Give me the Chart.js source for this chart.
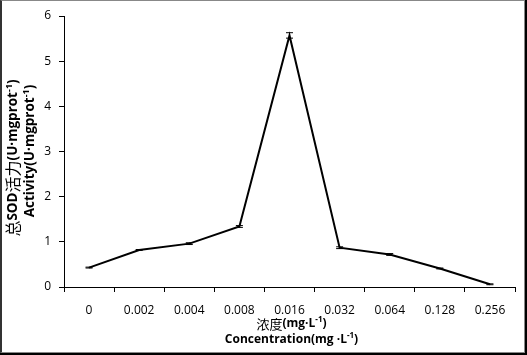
<!DOCTYPE html>
<html>
<head>
<meta charset="utf-8">
<script src="https://cdn.jsdelivr.net/npm/chart.js@4"></script>
<style>
  body { margin: 0; background: #000; }
  #frame {
    position: absolute; left: 0; top: 0; width: 522px; height: 351px;
    background: #fff;
    border-left: 2px solid #333; border-top: 1px solid #888;
    border-right: 1px solid #888; border-bottom: 1px solid #888;
  }
  #chart { position: absolute; left: 0; top: 0; }
</style>
</head>
<body>
<div id="frame"></div>
<canvas id="chart" width="527" height="355"></canvas>
<script>
// data
const concentrations = ['0', '0.002', '0.004', '0.008', '0.016', '0.032', '0.064', '0.128', '0.256'];
const sodActivity    = [0.43, 0.82, 0.96, 1.34, 5.57, 0.87, 0.72, 0.41, 0.06];
const sodError       = [0.01, 0.01, 0.02, 0.02, 0.06, 0.02, 0.02, 0.01, 0.01];
const yMin = 0, yMax = 6, yStep = 1;

const BOLD  = 'bold 12px "Open Sans", "Liberation Sans", sans-serif';
const CJK   = '13px "Noto Sans CJK SC", sans-serif';
const SUP   = 'bold 8px "Open Sans", "Liberation Sans", sans-serif';
const BOLDY = 'bold 13.5px "Open Sans", "Liberation Sans", sans-serif';
const CJKY  = '16px "Noto Sans CJK SC", sans-serif';
const SUPY  = 'bold 9px "Open Sans", "Liberation Sans", sans-serif';

// axis titles as runs of [text, font, yShift]
const xTitle1 = [['浓度', CJK, 0], ['(mg·L', BOLD, 0], ['-1', SUP, -4], [')', BOLD, 0]];
const xTitle2 = [['Concentration(mg ·L', BOLD, 0], ['-1', SUP, -4], [')', BOLD, 0]];
const yTitle1 = [['总', CJKY, 0], ['SOD', BOLDY, 0], ['活力', CJKY, 0], ['(U·mgprot', BOLDY, 0], ['-1', SUPY, -4], [')', BOLDY, 0]];
const yTitle2 = [['Activity(U·mgprot', BOLDY, 0], ['-1', SUPY, -4], [')', BOLDY, 0]];

function drawRuns(ctx, runs, cx, cy) {
  let total = 0;
  runs.forEach(([t, f]) => { ctx.font = f; total += ctx.measureText(t).width; });
  let x = cx - total / 2;
  ctx.textAlign = 'left';
  ctx.textBaseline = 'middle';
  ctx.fillStyle = '#000';
  runs.forEach(([t, f, dy]) => {
    ctx.font = f;
    ctx.fillText(t, x, cy + dy);
    x += ctx.measureText(t).width;
  });
}

const titlesPlugin = {
  id: 'titles',
  afterDraw(chart) {
    const ctx = chart.ctx;
    const area = chart.chartArea;
    const cx = (area.left + area.right) / 2 + 2;
    ctx.save();
    drawRuns(ctx, xTitle1, cx, 324);
    drawRuns(ctx, xTitle2, cx, 340);
    ctx.translate(13, 158);
    ctx.rotate(-Math.PI / 2);
    drawRuns(ctx, yTitle1, 0, 0);
    ctx.restore();
    ctx.save();
    ctx.translate(30, 151);
    ctx.rotate(-Math.PI / 2);
    drawRuns(ctx, yTitle2, 0, 0);
    ctx.restore();
  }
};

const errorBarPlugin = {
  id: 'errorBars',
  afterDatasetsDraw(chart) {
    const ctx = chart.ctx;
    const meta = chart.getDatasetMeta(0);
    const y = chart.scales.y;
    ctx.save();
    ctx.strokeStyle = '#000';
    ctx.lineWidth = 1;
    meta.data.forEach((pt, i) => {
      const top = y.getPixelForValue(sodActivity[i] + sodError[i]);
      const bot = y.getPixelForValue(sodActivity[i] - sodError[i]);
      ctx.beginPath();
      ctx.moveTo(pt.x, top); ctx.lineTo(pt.x, bot);
      ctx.moveTo(pt.x - 3.5, top); ctx.lineTo(pt.x + 3.5, top);
      ctx.moveTo(pt.x - 3.5, bot); ctx.lineTo(pt.x + 3.5, bot);
      ctx.stroke();
    });
    ctx.restore();
  }
};

const tickFont = { family: '"Open Sans", "Liberation Sans", sans-serif', size: 12 };

new Chart(document.getElementById('chart'), {
  type: 'line',
  data: {
    labels: concentrations,
    datasets: [{
      label: 'SOD',
      data: sodActivity,
      borderColor: '#000',
      backgroundColor: 'transparent',
      borderWidth: 2,
      pointRadius: 0,
      tension: 0,
      fill: false,
    }],
  },
  options: {
    responsive: false,
    animation: false,
    layout: { padding: { top: 16, right: 12, left: 0, bottom: 0 } },
    plugins: { legend: { display: false }, tooltip: { enabled: false } },
    scales: {
      x: {
        offset: true,
        grid: { drawOnChartArea: false, drawTicks: true, tickLength: 5, color: '#000', offset: true },
        border: { color: '#000', width: 1 },
        ticks: { color: '#000', font: tickFont, padding: 11, maxRotation: 0, autoSkip: false },
        afterFit: (s) => { s.height = 68; },
      },
      y: {
        min: yMin,
        max: yMax,
        grid: { drawOnChartArea: false, drawTicks: true, tickLength: 5, color: '#000' },
        border: { color: '#000', width: 1 },
        ticks: { stepSize: yStep, color: '#000', font: tickFont, padding: 8 },
        afterFit: (s) => { s.width = 64; },
      },
    },
  },
  plugins: [errorBarPlugin, titlesPlugin],
});
</script>
</body>
</html>
